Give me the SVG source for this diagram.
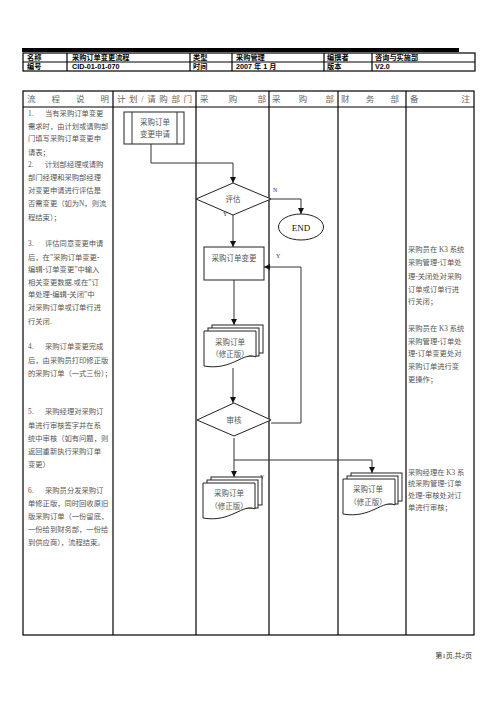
<svg xmlns="http://www.w3.org/2000/svg" width="496" height="702" viewBox="0 0 496 702">
<style>
.tb{fill:none;stroke:#000;stroke-width:1.2}
.hd{font-family:"Liberation Sans","Noto Sans CJK SC",sans-serif;font-size:7.2px;font-weight:bold;fill:#000}
.ch{font-family:"Liberation Serif","Noto Sans CJK SC",serif;font-size:8.5px;fill:#666}
.tx{font-family:"Liberation Serif","Noto Sans CJK SC",serif;font-size:7.3px;fill:#555}
.nl{font-family:"Liberation Serif","Noto Sans CJK SC",serif;font-size:7.5px;fill:#555;text-anchor:middle}
.sh{fill:#fff;stroke:#222;stroke-width:1}
.cn{fill:none;stroke:#333;stroke-width:1}
.lb{font-family:"Liberation Serif","Noto Sans CJK SC",serif;font-size:6px;fill:#333}
</style>
<defs>
<marker id="ar" viewBox="0 0 8 8" refX="8" refY="4" markerWidth="6" markerHeight="6" orient="auto" markerUnits="userSpaceOnUse">
<path d="M0,0 L8,4 L0,8 Z" fill="#111"/>
</marker>
<g id="docs">
<rect x="8" y="0" width="51" height="28" class="sh"/>
<rect x="4" y="3" width="51" height="28" class="sh"/>
<path d="M0,6 H52 V32 C40,26 28,46 0,41 Z" class="sh"/>
</g>
</defs>
<rect width="496" height="702" fill="#fff"/>
<!-- top bar -->
<rect x="22" y="48" width="437" height="4" fill="#000"/>
<!-- header table -->
<g id="header-table">
<rect x="23" y="53" width="452" height="18" class="tb"/>
<line x1="23" y1="62" x2="475" y2="62" class="tb"/>
<line x1="67" y1="53" x2="67" y2="71" class="tb"/>
<line x1="190" y1="53" x2="190" y2="71" class="tb"/>
<line x1="232" y1="53" x2="232" y2="71" class="tb"/>
<line x1="324" y1="53" x2="324" y2="71" class="tb"/>
<line x1="372" y1="53" x2="372" y2="71" class="tb"/>
<text class="hd" x="27" y="60.2">名称</text>
<text class="hd" x="72" y="60.2">采购订单变更流程</text>
<text class="hd" x="193" y="60.2">类型</text>
<text class="hd" x="236" y="60.2">采购管理</text>
<text class="hd" x="327" y="60.2">编撰者</text>
<text class="hd" x="375" y="60.2">咨询与实施部</text>
<text class="hd" x="27" y="69.2">编号</text>
<text class="hd" x="72" y="69.2">CID-01-01-070</text>
<text class="hd" x="193" y="69.2">时间</text>
<text class="hd" x="236" y="69.2">2007 年 1 月</text>
<text class="hd" x="327" y="69.2">版本</text>
<text class="hd" x="375" y="69.2">V2.0</text>
</g>
<!-- main table -->
<g id="main-table">
<rect x="23" y="91" width="451" height="544" class="tb"/>
<line x1="23" y1="107" x2="474" y2="107" class="tb"/>
<line x1="113" y1="91" x2="113" y2="635" class="tb"/>
<line x1="196" y1="91" x2="196" y2="635" class="tb"/>
<line x1="269" y1="91" x2="269" y2="635" class="tb"/>
<line x1="338" y1="91" x2="338" y2="635" class="tb"/>
<line x1="406" y1="91" x2="406" y2="635" class="tb"/>
<text class="ch" x="27" y="102" textLength="82" lengthAdjust="spacing">流程说明</text>
<text class="ch" x="117" y="102" textLength="75" lengthAdjust="spacing">计划/请购部门</text>
<text class="ch" x="200" y="102" textLength="66" lengthAdjust="spacing">采购部</text>
<text class="ch" x="272" y="102" textLength="62" lengthAdjust="spacing">采购部</text>
<text class="ch" x="341" y="102" textLength="58" lengthAdjust="spacing">财务部</text>
<text class="ch" x="410" y="102" textLength="60" lengthAdjust="spacing">备注</text>
</g>
<!-- description column -->
<g id="description">
<text class="tx" x="28" y="116">1.</text><text class="tx" x="45" y="116">当有采购订单变更</text>
<text class="tx" x="28" y="129">需求时，由计划或请购部</text>
<text class="tx" x="28" y="141">门填写采购订单变更申</text>
<text class="tx" x="28" y="155">请表；</text>
<text class="tx" x="28" y="167">2.</text><text class="tx" x="45" y="167">计划部经理或请购</text>
<text class="tx" x="28" y="180">部门经理和采购部经理</text>
<text class="tx" x="28" y="193">对变更申请进行评估是</text>
<text class="tx" x="28" y="206">否需变更（如为N，则流</text>
<text class="tx" x="28" y="220">程结束）；</text>
<text class="tx" x="28" y="246">3.</text><text class="tx" x="45" y="246">评估同意变更申请</text>
<text class="tx" x="28" y="260">后，在”采购订单变更-</text>
<text class="tx" x="28" y="272">编辑-订单变更”中输入</text>
<text class="tx" x="28" y="285">相关变更数据.或在”订</text>
<text class="tx" x="28" y="297">单处理-编辑-关闭”中</text>
<text class="tx" x="28" y="310">对采购订单或订单行进</text>
<text class="tx" x="28" y="324">行关闭.</text>
<text class="tx" x="28" y="349">4.</text><text class="tx" x="45" y="349">采购订单变更完成</text>
<text class="tx" x="28" y="363">后，由采购员打印修正版</text>
<text class="tx" x="28" y="376">的采购订单（一式三份）；</text>
<text class="tx" x="28" y="414">5.</text><text class="tx" x="45" y="414">采购经理对采购订</text>
<text class="tx" x="28" y="428">单进行审核签字并在系</text>
<text class="tx" x="28" y="441">统中审核（如有问题，则</text>
<text class="tx" x="28" y="454">返回重新执行采购订单</text>
<text class="tx" x="28" y="467">变更）</text>
<text class="tx" x="28" y="493">6.</text><text class="tx" x="45" y="493">采购员分发采购订</text>
<text class="tx" x="28" y="506">单修正版，同时回收原旧</text>
<text class="tx" x="28" y="519">版采购订单（一份留底，</text>
<text class="tx" x="28" y="532">一份给到财务部，一份给</text>
<text class="tx" x="28" y="545">到供应商），流程结束。</text>
</g>
<!-- notes column -->
<g id="notes">
<text class="tx" x="408" y="252">采购员在 K3 系统</text>
<text class="tx" x="408" y="265">采购管理-订单处</text>
<text class="tx" x="408" y="279">理-关闭处对采购</text>
<text class="tx" x="408" y="292">订单或订单行进</text>
<text class="tx" x="408" y="304">行关闭；</text>
<text class="tx" x="408" y="331">采购员在 K3 系统</text>
<text class="tx" x="408" y="344">采购管理-订单处</text>
<text class="tx" x="408" y="356">理-订单变更处对</text>
<text class="tx" x="408" y="369">采购订单进行变</text>
<text class="tx" x="408" y="382">更操作；</text>
<text class="tx" x="408" y="475">采购经理在 K3 系</text>
<text class="tx" x="408" y="486">统采购管理-订单</text>
<text class="tx" x="408" y="498">处理-审核处对订</text>
<text class="tx" x="408" y="510">单进行审核；</text>
</g>
<!-- connectors -->
<g id="connectors">
<path class="cn" d="M151,144 V163 H233 V183" marker-end="url(#ar)"/>
<path class="cn" d="M271,199 H301 V214" marker-end="url(#ar)"/>
<path class="cn" d="M233,215 V247" marker-end="url(#ar)"/>
<path class="cn" d="M234,280 V325" marker-end="url(#ar)"/>
<path class="cn" d="M233,368 V403" marker-end="url(#ar)"/>
<path class="cn" d="M271,423 H301 V267 H264" marker-end="url(#ar)"/>
<path class="cn" d="M234,438 V477" marker-end="url(#ar)"/>
<path class="cn" d="M234,460 H372 V473" marker-end="url(#ar)"/>
<text class="lb" x="223" y="216">Y</text>
<text class="lb" x="273" y="192">N</text>
<text class="lb" x="276" y="258">Y</text>
<text class="lb" x="260" y="479" font-size="5">Y</text>
</g>
<!-- nodes -->
<g id="node-apply">
<rect x="124" y="112" width="60" height="32" class="sh"/>
<line x1="132" y1="112" x2="132" y2="144" class="cn"/>
<line x1="177" y1="112" x2="177" y2="144" class="cn"/>
<text class="nl" x="155" y="125">采购订单</text>
<text class="nl" x="155" y="137">变更申请</text>
</g>
<g id="node-eval">
<polygon points="233,183 271,199 233,215 196,199" class="sh"/>
<text class="nl" x="233" y="202">评估</text>
</g>
<g id="node-end">
<ellipse cx="301" cy="227" rx="22.5" ry="13" class="sh"/>
<text x="301" y="230.5" text-anchor="middle" font-family="Liberation Serif, serif" font-size="9" fill="#111">END</text>
</g>
<g id="node-change">
<rect x="204" y="247" width="60" height="33" class="sh"/>
<text class="nl" x="234" y="261">采购订单变更</text>
</g>
<g id="node-doc1">
<use href="#docs" x="204" y="325"/>
<text class="nl" x="230" y="345">采购订单</text>
<text class="nl" x="230" y="357">（修正版）</text>
</g>
<g id="node-audit">
<polygon points="234,403 271,420 234,436 197,420" class="sh"/>
<text class="nl" x="234" y="423">审核</text>
</g>
<g id="node-doc2">
<use href="#docs" x="203" y="477"/>
<text class="nl" x="229" y="496">采购订单</text>
<text class="nl" x="229" y="509">（修正版）</text>
</g>
<g id="node-doc3">
<use href="#docs" x="343" y="473"/>
<text class="nl" x="368" y="492">采购订单</text>
<text class="nl" x="368" y="505">（修正版）</text>
</g>
<text x="472" y="658" text-anchor="end" font-family="Liberation Serif, 'Noto Sans CJK SC', serif" font-size="7" fill="#333">第1页,共2页</text>
</svg>
